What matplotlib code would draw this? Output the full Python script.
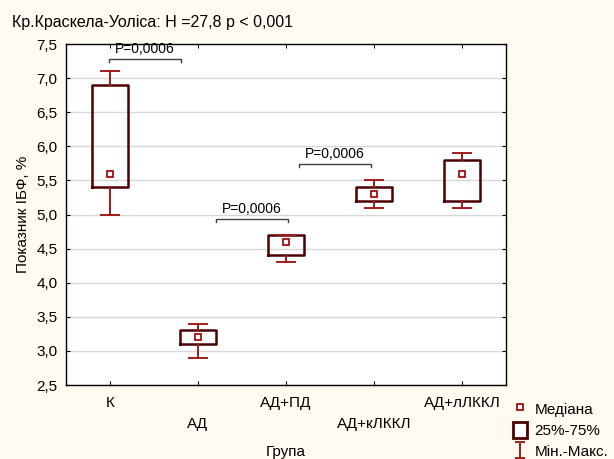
import matplotlib
matplotlib.use('Agg')
import matplotlib.pyplot as plt
from matplotlib.lines import Line2D
from matplotlib.patches import Patch
from matplotlib.path import Path
from matplotlib.ticker import FuncFormatter, MultipleLocator

plt.rcParams['font.family'] = ['Liberation Sans', 'DejaVu Sans']

# Дані
groups = ['К', 'АД', 'АД+ПД', 'АД+кЛККЛ', 'АД+лЛККЛ']
mins = [5.0, 2.9, 4.3, 5.1, 5.1]
q1 = [5.4, 3.1, 4.4, 5.2, 5.2]
medians = [5.6, 3.2, 4.6, 5.3, 5.6]
q3 = [6.9, 3.3, 4.7, 5.4, 5.8]
maxs = [7.1, 3.4, 4.7, 5.5, 5.9]

# Попарні порівняння: (x від, x до, рівень, підпис)
pairs_x0 = [-0.01, 1.2, 2.15]
pairs_x1 = [0.81, 2.02, 2.97]
pairs_y = [7.28, 4.94, 5.74]
pairs_txt = ['P=0,0006', 'P=0,0006', 'P=0,0006']

bg = '#fffbf0'
box_col = '#4a0000'
wh_col = '#a01c1c'

fig = plt.figure(figsize=(6.14, 4.59), dpi=100, facecolor=bg)
ax = fig.add_axes([0.1075, 0.1612, 0.7165, 0.7428])
ax.set_facecolor('white')

stats = []
for i in range(len(groups)):
    stats.append({'whislo': mins[i], 'q1': q1[i], 'med': medians[i],
                  'q3': q3[i], 'whishi': maxs[i]})

pos = list(range(len(groups)))
ax.bxp(stats, positions=pos, widths=0.4, capwidths=0.2, showfliers=False,
       boxprops=dict(color=box_col, linewidth=1.8),
       whiskerprops=dict(color=wh_col, linewidth=1.4),
       capprops=dict(color=wh_col, linewidth=1.4),
       medianprops=dict(linewidth=0), zorder=3)
ax.plot(pos, medians, ls='none', marker='s', ms=5, mfc='white',
        mec='#a01010', mew=1.3, zorder=4)

# дужки з P
for x0, x1, y, t in zip(pairs_x0, pairs_x1, pairs_y, pairs_txt):
    ax.plot([x0, x0, x1, x1], [y - 0.05, y, y, y - 0.05], color='#404040', lw=1.0, zorder=3)
    ax.text((x0 + x1) / 2, y + 0.04, t, ha='center', va='bottom', fontsize=10, zorder=3)

ax.set_xlim(-0.5, 4.5)
ax.set_ylim(2.5, 7.5)
ax.yaxis.set_major_locator(MultipleLocator(0.5))
ax.yaxis.set_major_formatter(FuncFormatter(lambda v, p: ('%.1f' % v).replace('.', ',')))
ax.grid(axis='y', color='#d8d8d8', lw=1.0, zorder=0)
ax.set_axisbelow(True)

ax.set_xticks(pos)
ax.set_xticklabels(groups, fontsize=11)
for i, tk in enumerate(ax.xaxis.get_major_ticks()):
    tk.set_pad(23 if i % 2 else 8)
ax.tick_params(axis='both', direction='in', length=3, top=True, right=True, labelsize=11)
ax.tick_params(axis='y', pad=6)
for s in ax.spines.values():
    s.set_color('black')
    s.set_linewidth(1.0)

ax.set_xlabel('Група', fontsize=11, labelpad=10)
ax.set_ylabel('Показник ІБФ, %', fontsize=11, labelpad=5)

fig.text(12 / 614, 1 - 22 / 459, 'Кр.Краскела-Уоліса: H =27,8 p < 0,001',
         fontsize=11.5, va='center', ha='left')

# легенда
ibar = Path([(-0.7, 1), (0.7, 1), (0, 1), (0, -1), (-0.7, -1), (0.7, -1)],
            [Path.MOVETO, Path.LINETO, Path.MOVETO, Path.LINETO, Path.MOVETO, Path.LINETO])
handles = [
    Line2D([], [], ls='none', marker='s', ms=5, mfc='white', mec='#a01010', mew=1.3),
    Patch(facecolor='white', edgecolor=box_col, linewidth=2),
    Line2D([], [], ls='none', marker=ibar, ms=11, mec=wh_col, mew=1.4),
]
fig.legend(handles, ['Медіана', '25%-75%', 'Мін.-Макс.'], loc='upper left',
           bbox_to_anchor=(513 / 614, 1 - 401 / 459), frameon=False, fontsize=11,
           borderpad=0, borderaxespad=0,
           handlelength=0.9, handleheight=1.2, handletextpad=0.5, labelspacing=0.34)

fig.savefig('out.png', dpi=100, facecolor=bg)
